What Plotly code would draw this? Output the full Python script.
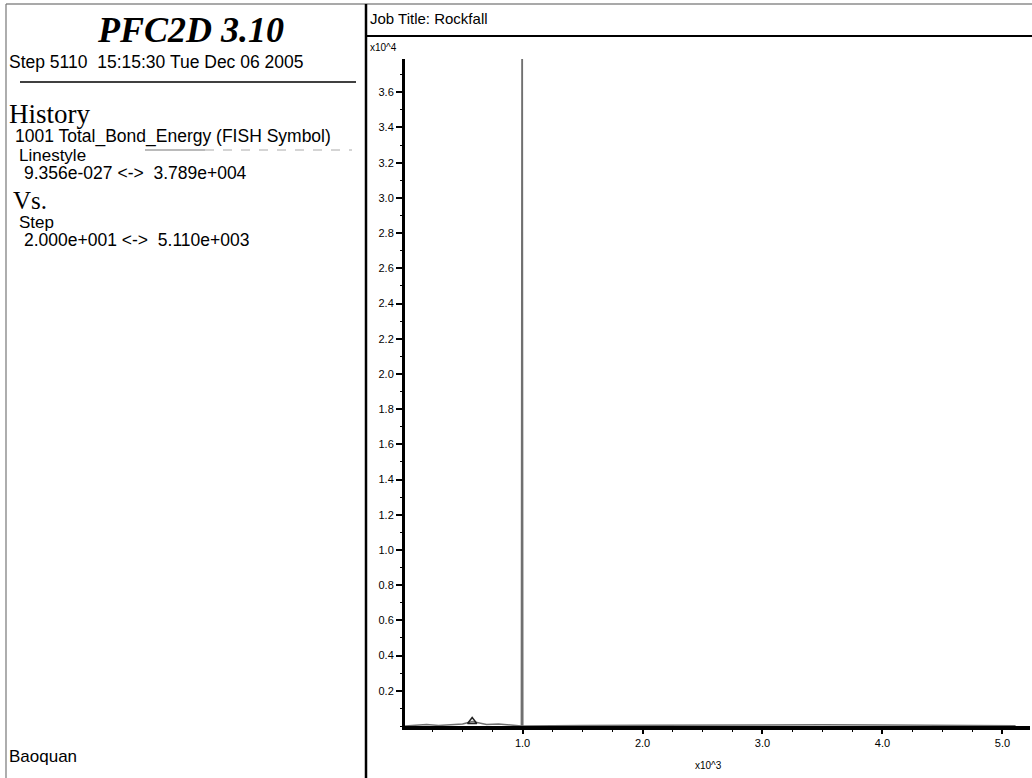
import plotly.graph_objects as go

# History record 1001: Total_Bond_Energy vs Step
steps = [20, 120, 200, 300, 400, 500, 580, 700, 800, 900, 990, 995, 998, 1002, 1200, 1500, 2000, 2500, 3000, 3500, 4000, 4500, 5000, 5110]
bond_energy = [0, 40, 90, 30, 60, 110, 260, 80, 120, 50, 0, 37890, 37890, 0, 20, 30, 40, 60, 50, 70, 60, 40, 30, 20]

# FISH symbol marker along the history
symbol_steps = [580]
symbol_values = [260]

y_tick_vals = [2000 * i for i in range(1, 19)]
y_tick_text = ["%.1f" % (v / 1e4) for v in y_tick_vals]
x_tick_vals = [1000, 2000, 3000, 4000, 5000]
x_tick_text = ["1.0", "2.0", "3.0", "4.0", "5.0"]

L, R, T, B = 405, 2, 59, 52
W, H = 1032, 778
PW, PH = W - L - R, H - T - B


def px(x):
    return (x - L) / PW


def py(y):
    return (H - B - y) / PH


fig = go.Figure()
fig.add_trace(go.Scatter(
    x=steps, y=bond_energy, mode="lines",
    line=dict(color="#707070", width=1.5), showlegend=False,
))
fig.add_trace(go.Scatter(
    x=symbol_steps, y=symbol_values, mode="markers",
    marker=dict(symbol="triangle-up-open", size=8, color="#222", line=dict(width=1.5)),
    showlegend=False,
))

sans = "Liberation Sans, Arial, sans-serif"
serif = "Liberation Serif, Times New Roman, serif"

ann = []


def text(x, y, s, size, family=sans, anchor="left"):
    ann.append(dict(x=px(x), y=py(y), xref="paper", yref="paper", text=s,
                    showarrow=False, xanchor=anchor, yanchor="middle",
                    borderpad=0, font=dict(family=family, size=size, color="black")))


text(190, 30, "<b><i>PFC2D 3.10</i></b>", 36, serif, "center")
text(8, 62, "Step 5110&nbsp;&nbsp;15:15:30 Tue Dec 06 2005", 17.5)
text(8, 114, "History", 27, serif)
text(14, 137, "1001 Total_Bond_Energy (FISH Symbol)", 17.5)
text(18, 155, "Linestyle", 17)
text(23, 173, "9.356e-027 &lt;-&gt;&nbsp;&nbsp;3.789e+004", 17.5)
text(12, 200, "Vs.", 25, serif)
text(18, 222, "Step", 17)
text(23, 240, "2.000e+001 &lt;-&gt;&nbsp;&nbsp;5.110e+003", 17.5)
text(8, 756, "Baoquan", 17)
text(369, 18, "Job Title: Rockfall", 15)
text(369, 48, "x10^4", 10)
text(694, 765, "x10^3", 10)

shapes = []


def line(x0, y0, x1, y1, width=1, color="black", dash="solid"):
    shapes.append(dict(type="line", xref="paper", yref="paper",
                       x0=px(x0), y0=py(y0), x1=px(x1), y1=py(y1),
                       line=dict(color=color, width=width, dash=dash)))


line(6, 4, 1032, 4, 1.2, "#555")
line(6, 4, 6, 778, 1.2, "#777")
line(366, 4, 366, 778, 2.5)
line(366, 36, 1032, 36, 2)
line(20, 82, 356, 82, 1.5)
# linestyle sample
line(145, 150, 205, 150, 1.2, "#777")
line(205, 150, 352, 150, 1, "#aaa", "dash")

fig.update_layout(
    width=W, height=H,
    margin=dict(l=L, r=R, t=T, b=B),
    paper_bgcolor="white", plot_bgcolor="white",
    annotations=ann, shapes=shapes,
    xaxis=dict(
        range=[20, 5230], showgrid=False, zeroline=False,
        showline=True, linecolor="black", linewidth=4,
        ticks="outside", ticklen=4, tickwidth=2, tickcolor="black",
        tickvals=x_tick_vals, ticktext=x_tick_text,
        tickfont=dict(family=sans, size=11, color="black"),
        minor=dict(dtick=250, tick0=0, ticks="outside", ticklen=2, tickwidth=1, tickcolor="black"),
    ),
    yaxis=dict(
        range=[0, 37890], showgrid=False, zeroline=False,
        showline=True, linecolor="black", linewidth=3,
        ticks="outside", ticklen=6, tickwidth=2, tickcolor="black",
        tickvals=y_tick_vals, ticktext=y_tick_text,
        tickfont=dict(family=sans, size=11, color="black"),
        minor=dict(dtick=1000, tick0=0, ticks="outside", ticklen=2, tickwidth=1, tickcolor="black"),
    ),
)

fig.write_html("out.html")
